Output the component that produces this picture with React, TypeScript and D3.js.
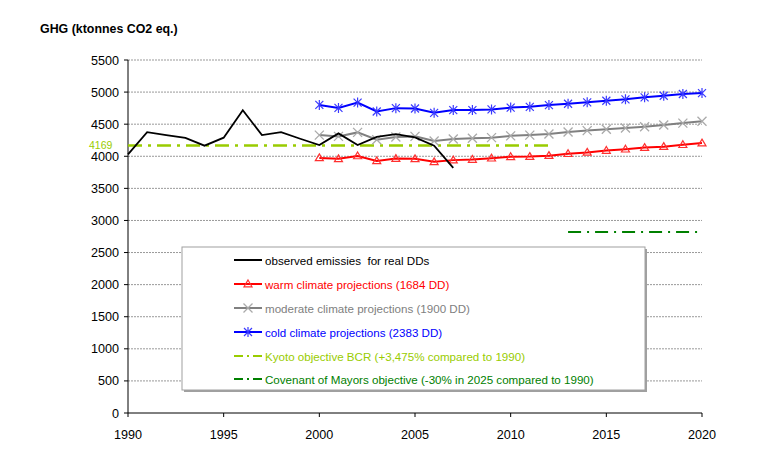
import React from "react";
import * as d3 from "d3";

const obsYears = [1990,1991,1992,1993,1994,1995,1996,1997,1998,1999,2000,2001,2002,2003,2004,2005,2006,2007];
const observed = [4030,4375,4330,4285,4165,4290,4717,4330,4376,4273,4175,4356,4175,4303,4345,4293,4165,3820];
const projYears = [2000,2001,2002,2003,2004,2005,2006,2007,2008,2009,2010,2011,2012,2013,2014,2015,2016,2017,2018,2019,2020];
const warm = [3975,3960,4005,3928,3964,3960,3913,3940,3950,3970,3992,3995,4010,4040,4060,4090,4110,4135,4150,4180,4205];
const moderate = [4330,4310,4372,4258,4300,4310,4237,4268,4280,4290,4318,4330,4347,4378,4400,4420,4440,4460,4486,4517,4545];
const cold = [4800,4754,4837,4698,4750,4745,4677,4720,4720,4730,4758,4770,4797,4818,4840,4865,4887,4918,4943,4970,4985];
const kyotoValue = 4169;
const kyotoYears = [1990, 2012];
const covenantValue = 2821;
const covenantYears = [2013, 2020];
const yTicks = [0,500,1000,1500,2000,2500,3000,3500,4000,4500,5000,5500];
const xTicks = [1990,1995,2000,2005,2010,2015,2020];
const legendLabels = [
  "observed emissies  for real DDs",
  "warm climate projections (1684 DD)",
  "moderate climate projections (1900 DD)",
  "cold climate projections (2383 DD)",
  "Kyoto objective BCR (+3,475% compared to 1990)",
  "Covenant of Mayors objective (-30% in 2025 compared to 1990)",
];

const FONT = "Arial, 'Liberation Sans', sans-serif";

const x = d3.scaleLinear().domain([1990, 2020]).range([128, 702]);
const y = d3.scaleLinear().domain([0, 5500]).range([413, 60]);

function Tri({ cx, cy }: { cx: number; cy: number }) {
  return <path d={`M${cx},${cy - 4}L${cx + 4},${cy + 2.8}L${cx - 4},${cy + 2.8}Z`} fill="none" stroke="#ff3030" strokeWidth={1.2} />;
}
function Cross({ cx, cy }: { cx: number; cy: number }) {
  const s = 4.5;
  return <path d={`M${cx - s},${cy - s}L${cx + s},${cy + s}M${cx - s},${cy + s}L${cx + s},${cy - s}`} stroke="#aaaaaa" strokeWidth={1.3} />;
}
function Star({ cx, cy }: { cx: number; cy: number }) {
  const s = 4;
  return <path d={`M${cx - s},${cy - s}L${cx + s},${cy + s}M${cx - s},${cy + s}L${cx + s},${cy - s}M${cx},${cy - s - 1}L${cx},${cy + s + 1}`} stroke="#3a3aff" strokeWidth={1.2} />;
}

export default function App() {
  const line = d3.line<[number, number]>().x(d => x(d[0])).y(d => y(d[1]));
  const obsPts = obsYears.map((yr, i) => [yr, observed[i]] as [number, number]);
  const warmPts = projYears.map((yr, i) => [yr, warm[i]] as [number, number]);
  const modPts = projYears.map((yr, i) => [yr, moderate[i]] as [number, number]);
  const coldPts = projYears.map((yr, i) => [yr, cold[i]] as [number, number]);

  const lgX = 182, lgY = 247, lgW = 463, lgH = 143;
  const rowY = [260, 284, 308, 332, 356, 379];
  const colors = ["#000000", "#ff0000", "#808080", "#0000ff", "#99cc00", "#008000"];
  const textColors = ["#000000", "#ff0000", "#808080", "#0000ff", "#99cc00", "#008000"];

  return (
    <svg width={768} height={469} style={{ position: "absolute", left: 0, top: 0, background: "#fff" }} fontFamily={FONT}>
      <text x={40} y={33} fontSize={12.4} fontWeight="bold">GHG (ktonnes CO2 eq.)</text>
      {/* grid */}
      {yTicks.filter(t => t > 0).map(t => (
        <line key={t} x1={x(1990)} x2={x(2020)} y1={y(t)} y2={y(t)} stroke="#999" strokeWidth={1} strokeDasharray="2,1" />
      ))}
      {/* y axis */}
      <line x1={x(1990)} x2={x(1990)} y1={y(0)} y2={y(5500)} stroke="#000" strokeWidth={1} />
      {yTicks.map(t => (
        <g key={t}>
          <line x1={x(1990) - 4} x2={x(1990)} y1={y(t)} y2={y(t)} stroke="#000" />
          <text x={119} y={y(t) + 4.5} fontSize={12.6} textAnchor="end">{t}</text>
        </g>
      ))}
      {/* x axis */}
      <line x1={x(1990)} x2={x(2020)} y1={y(0)} y2={y(0)} stroke="#000" strokeWidth={1} />
      {xTicks.map(t => (
        <g key={t}>
          <line x1={x(t)} x2={x(t)} y1={y(0)} y2={y(0) + 4} stroke="#000" />
          <text x={x(t)} y={439} fontSize={12.6} textAnchor="middle">{t}</text>
        </g>
      ))}
      {/* kyoto */}
      <line x1={x(kyotoYears[0])} x2={x(kyotoYears[1])} y1={y(kyotoValue)} y2={y(kyotoValue)} stroke="#99cc00" strokeWidth={2.5} strokeDasharray="14,6,3,6" />
      <text x={89} y={148.5} fontSize={10.5} fill="#99cc00">{kyotoValue}</text>
      {/* covenant */}
      <line x1={x(covenantYears[0])} x2={x(covenantYears[1])} y1={y(covenantValue)} y2={y(covenantValue)} stroke="#008000" strokeWidth={2} strokeDasharray="13,6,2,6" />
      {/* series */}
      <path d={line(coldPts) || ""} fill="none" stroke="#0000ff" strokeWidth={2} />
      {coldPts.map((p, i) => <Star key={i} cx={x(p[0])} cy={y(p[1])} />)}
      <path d={line(modPts) || ""} fill="none" stroke="#808080" strokeWidth={2} />
      {modPts.map((p, i) => <Cross key={i} cx={x(p[0])} cy={y(p[1])} />)}
      <path d={line(warmPts) || ""} fill="none" stroke="#ff0000" strokeWidth={2} />
      {warmPts.map((p, i) => <Tri key={i} cx={x(p[0])} cy={y(p[1])} />)}
      <path d={line(obsPts) || ""} fill="none" stroke="#000" strokeWidth={1.8} />
      {/* legend */}
      <rect x={lgX + 2} y={lgY + 2} width={lgW} height={lgH} fill="#a0a0a0" />
      <rect x={lgX} y={lgY} width={lgW} height={lgH} fill="#fff" stroke="#a0a0a0" strokeWidth={1} />
      {legendLabels.map((lab, i) => {
        const ly = rowY[i];
        const cx = 248;
        return (
          <g key={i}>
            {i < 4 && <line x1={234} x2={262} y1={ly} y2={ly} stroke={colors[i]} strokeWidth={2} />}
            {i === 1 && <Tri cx={cx} cy={ly} />}
            {i === 2 && <Cross cx={cx} cy={ly} />}
            {i === 3 && <Star cx={cx} cy={ly} />}
            {i >= 4 && <line x1={234} x2={262} y1={ly} y2={ly} stroke={colors[i]} strokeWidth={2} strokeDasharray="9,4,2,4" />}
            <text x={265} y={ly + 4.5} fontSize={11.6} fill={textColors[i]} style={{ whiteSpace: "pre" }}>{lab}</text>
          </g>
        );
      })}
    </svg>
  );
}
